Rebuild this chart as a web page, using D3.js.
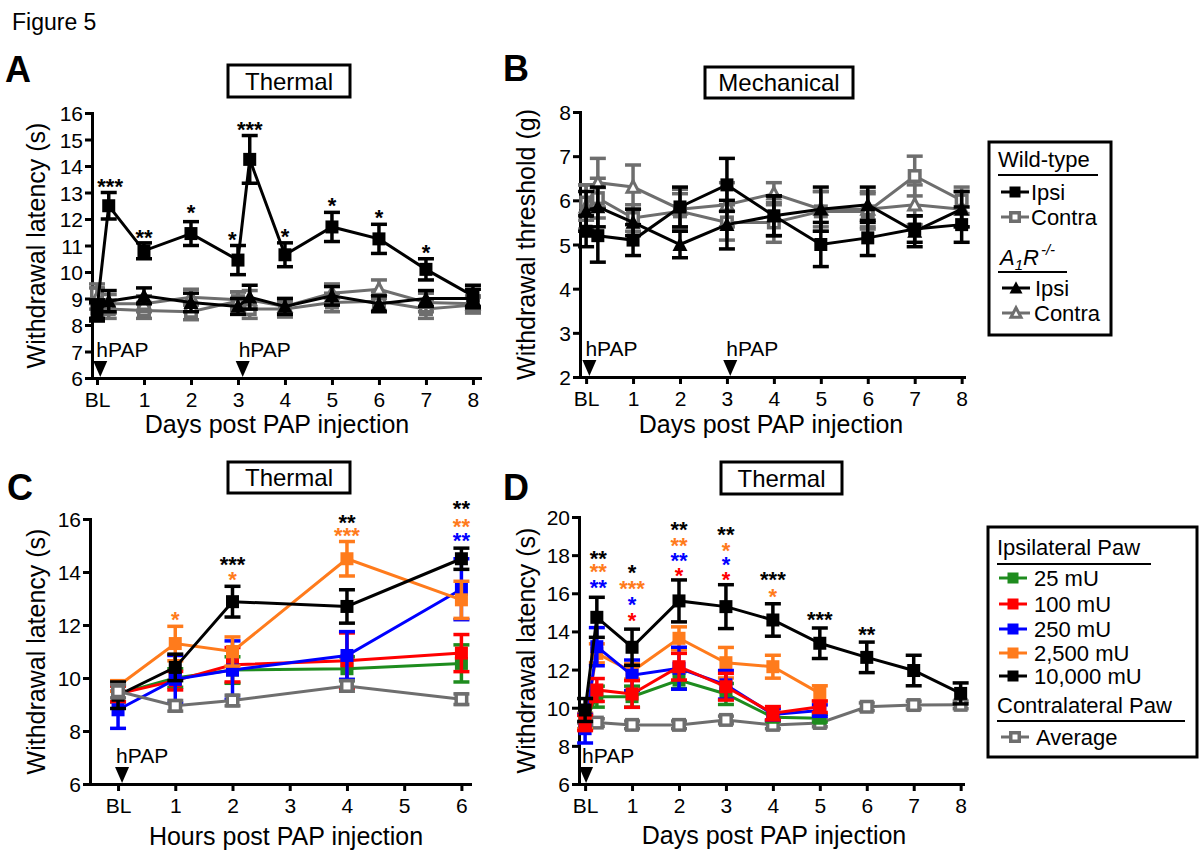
<!DOCTYPE html>
<html><head><meta charset="utf-8">
<script src="https://cdn.jsdelivr.net/npm/d3@7"></script>
<style>body{margin:0;background:#fff}svg{display:block}text{font-family:"Liberation Sans",Arial,Helvetica,sans-serif}</style>
</head><body><svg id="c" width="1200" height="857"></svg>
<script>
// ---------------- DATA ----------------
const GREY = "#6e6e6e", GREEN = "#1e8c1e", RED = "#ff0000", BLUE = "#0000ff", ORANGE = "#ff7b1c", BLACK = "#000000";

// Panel A (thermal, days)
const aDays = [0, 0.25, 1, 2, 3, 3.25, 4, 5, 6, 7, 8];
const aWtIpsi = [8.6, 12.5, 10.8, 11.45, 10.45, 14.25, 10.65, 11.7, 11.25, 10.1, 9.1];
const aWtIpsiErr = [0.35, 0.5, 0.3, 0.45, 0.55, 0.9, 0.45, 0.55, 0.55, 0.4, 0.4];
const aWtContra = [9.2, 8.6, 8.55, 8.5, 8.9, 8.6, 8.6, 8.85, 8.9, 8.6, 8.75];
const aWtContraErr = [0.35, 0.35, 0.3, 0.3, 0.35, 0.35, 0.3, 0.35, 0.35, 0.35, 0.3];
const aKoIpsi = [8.5, 8.9, 9.1, 8.85, 8.7, 9.05, 8.7, 9.1, 8.8, 9.0, 9.0];
const aKoIpsiErr = [0.35, 0.4, 0.3, 0.35, 0.3, 0.45, 0.3, 0.35, 0.3, 0.3, 0.35];
const aKoContra = [9.0, 8.8, 8.8, 9.05, 8.95, 8.95, 8.7, 9.2, 9.35, 8.85, 8.8];
const aKoContraErr = [0.4, 0.35, 0.3, 0.3, 0.3, 0.35, 0.3, 0.35, 0.35, 0.35, 0.3];
const aStars = [[0.28, 13.4, "***"], [1, 11.5, "**"], [2, 12.42, "*"], [2.88, 11.4, "*"], [3.25, 15.58, "***"],
                [4, 11.51, "*"], [5, 12.68, "*"], [6, 12.23, "*"], [7, 10.91, "*"]];

// Panel B (mechanical, days)
const bDays = [0, 0.25, 1, 2, 3, 4, 5, 6, 7, 8];
const bWtIpsi = [5.3, 5.2, 5.1, 5.85, 6.35, 5.65, 5.0, 5.15, 5.35, 5.45];
const bWtIpsiErr = [0.35, 0.6, 0.35, 0.45, 0.6, 0.45, 0.5, 0.4, 0.3, 0.4];
const bWtContra = [5.95, 6.05, 5.6, 5.75, 5.5, 5.5, 5.75, 5.75, 6.55, 6.0];
const bWtContraErr = [0.4, 0.45, 0.3, 0.4, 0.4, 0.45, 0.45, 0.4, 0.45, 0.3];
const bKoIpsi = [5.75, 5.85, 5.5, 5.0, 5.45, 5.65, 5.8, 5.9, 5.3, 5.8];
const bKoIpsiErr = [0.45, 0.45, 0.3, 0.3, 0.55, 0.45, 0.5, 0.4, 0.35, 0.4];
const bKoContra = [5.85, 6.4, 6.3, 5.8, 5.9, 6.15, 5.8, 5.8, 5.9, 5.8];
const bKoContraErr = [0.5, 0.55, 0.5, 0.45, 0.5, 0.25, 0.4, 0.4, 0.45, 0.4];

// Panel C (thermal, hours)
const cHours = [0, 1, 2, 4, 6];
const c25 = [9.4, 10.0, 10.3, 10.35, 10.55];
const c25Err = [0.3, 0.35, 0.5, 0.45, 0.7];
const c100 = [9.4, 9.9, 10.5, 10.65, 10.94];
const c100Err = [0.3, 0.35, 0.65, 1.05, 0.7];
const c250 = [8.8, 9.95, 10.3, 10.85, 13.35];
const c250Err = [0.7, 0.9, 1.1, 0.9, 1.15];
const c2500 = [9.7, 11.3, 11.0, 14.5, 12.95];
const c2500Err = [0.2, 0.65, 0.55, 0.65, 0.7];
const c10000 = [9.35, 10.4, 12.88, 12.7, 14.5];
const c10000Err = [0.5, 0.5, 0.58, 0.63, 0.4];
const cAvg = [9.5, 8.95, 9.15, 9.7, 9.2];
const cAvgErr = [0.25, 0.2, 0.2, 0.2, 0.2];
const cStars = [[1, 12.38, "*", ORANGE], [2, 14.49, "***", BLACK], [2, 13.89, "*", ORANGE],
                [4, 16.04, "**", BLACK], [4, 15.58, "***", ORANGE],
                [6, 16.6, "**", BLACK], [6, 15.92, "**", ORANGE], [6, 15.36, "**", BLUE]];

// Panel D (thermal, days, dose)
const dDays = [0, 0.25, 1, 2, 3, 4, 5, 6, 7, 8];
const dDaysShort = [0, 0.25, 1, 2, 3, 4, 5];
const d25 = [9.3, 10.58, 10.58, 11.45, 10.72, 9.5, 9.45];
const d25Err = [0.4, 0.55, 0.55, 0.45, 0.55, 0.2, 0.2];
const d100 = [9.2, 10.93, 10.72, 12.15, 11.1, 9.71, 10.05];
const d100Err = [0.4, 0.6, 0.7, 0.7, 0.7, 0.35, 0.3];
const d250 = [8.9, 13.2, 11.7, 12.07, 11.2, 9.65, 9.85];
const d250Err = [0.75, 1.0, 0.8, 1.1, 0.75, 0.3, 0.3];
const d2500 = [9.3, 12.85, 11.9, 13.64, 12.36, 12.15, 10.75];
const d2500Err = [0.4, 0.5, 0.4, 0.6, 0.8, 0.6, 0.4];
const d10000 = [9.88, 14.74, 13.17, 15.6, 15.3, 14.6, 13.38, 12.64, 11.95, 10.75];
const d10000Err = [0.6, 1.05, 0.95, 1.1, 1.15, 0.85, 0.8, 0.8, 0.8, 0.55];
const dAvg = [9.4, 9.22, 9.1, 9.1, 9.36, 9.1, 9.2, 10.05, 10.14, 10.15];
const dAvgErr = [0.2, 0.2, 0.2, 0.2, 0.2, 0.2, 0.2, 0.2, 0.2, 0.2];
const dStars = [[0.28, 18.11, "**", BLACK], [0.28, 17.38, "**", ORANGE], [0.28, 16.54, "**", BLUE],
                [1, 17.33, "*", BLACK], [1, 16.49, "***", ORANGE], [1, 15.65, "*", BLUE], [1, 14.81, "*", RED],
                [2, 19.63, "**", BLACK], [2, 18.79, "**", ORANGE], [2, 17.96, "**", BLUE], [2, 17.17, "*", RED],
                [3, 19.32, "**", BLACK], [3, 18.53, "*", ORANGE], [3, 17.75, "*", BLUE], [3, 17.01, "*", RED],
                [4, 16.96, "***", BLACK], [4, 16.07, "*", ORANGE],
                [5, 14.91, "***", BLACK], [6, 14.08, "**", BLACK]];

const dayLabels = ["BL", "1", "2", "3", "4", "5", "6", "7", "8"];
const hourLabels = ["BL", "1", "2", "3", "4", "5", "6"];
const doseLabels = ["25 mU", "100 mU", "250 mU", "2,500 mU", "10,000 mU"];
const doseColors = [GREEN, RED, BLUE, ORANGE, BLACK];

// ---------------- DRAWING ----------------
const svg = d3.select("#c");

function marker(g, type, color, cx, cy, s) {
  if (type === "sq") {
    g.append("rect").attr("x", cx - s / 2).attr("y", cy - s / 2).attr("width", s).attr("height", s).attr("fill", color);
  } else if (type === "sqOpen") {
    const t = s - 3.5;
    g.append("rect").attr("x", cx - t / 2).attr("y", cy - t / 2).attr("width", t).attr("height", t)
      .attr("fill", "#fff").attr("stroke", color).attr("stroke-width", 3.5);
  } else if (type === "tri") {
    const h = s * 0.95;
    g.append("path").attr("d", `M${cx},${cy - h * 0.55} L${cx + s / 2},${cy + h * 0.45} L${cx - s / 2},${cy + h * 0.45} Z`).attr("fill", color);
  } else if (type === "triOpen") {
    const t = s - 3, h = t * 0.95;
    g.append("path").attr("d", `M${cx},${cy - h * 0.55} L${cx + t / 2},${cy + h * 0.45} L${cx - t / 2},${cy + h * 0.45} Z`)
      .attr("fill", "#fff").attr("stroke", color).attr("stroke-width", 3).attr("stroke-linejoin", "miter");
  }
}

function series(g, x, y, xs, vs, es, color, type, size) {
  const pts = xs.map((d, i) => ({ x: d, v: vs[i], e: es[i] }));
  const sg = g.append("g");
  sg.append("path").datum(pts).attr("fill", "none").attr("stroke", color).attr("stroke-width", 3)
    .attr("d", d3.line().x(d => x(d.x)).y(d => y(d.v)));
  const eg = sg.append("g").attr("stroke", color).attr("stroke-width", 3.5);
  pts.forEach(d => {
    const cx = x(d.x);
    eg.append("line").attr("x1", cx).attr("x2", cx).attr("y1", y(d.v - d.e)).attr("y2", y(d.v + d.e));
    eg.append("line").attr("x1", cx - 8).attr("x2", cx + 8).attr("y1", y(d.v + d.e)).attr("y2", y(d.v + d.e));
    eg.append("line").attr("x1", cx - 8).attr("x2", cx + 8).attr("y1", y(d.v - d.e)).attr("y2", y(d.v - d.e));
  });
  pts.forEach(d => marker(sg, type, color, x(d.x), y(d.v), size));
}

function panel(p) {
  const g = svg.append("g");
  const x = d3.scaleLinear().domain(p.xDomain).range(p.xRange);
  const y = d3.scaleLinear().domain(p.yDomain).range(p.yRange);
  const gy = g.append("g").attr("transform", `translate(${p.xRange[0]},0)`)
    .call(d3.axisLeft(y).tickValues(p.yTicks).tickSize(7).tickSizeOuter(0).tickFormat(d3.format("d")));
  const gx = g.append("g").attr("transform", `translate(0,${p.yRange[0]})`)
    .call(d3.axisBottom(x).tickValues(d3.range(p.xLabels.length)).tickSize(7).tickSizeOuter(0).tickFormat((d, i) => p.xLabels[i]));
  [gx, gy].forEach(a => {
    a.select(".domain").attr("stroke-width", 3).attr("stroke-linecap", "square");
    a.selectAll(".tick line").attr("stroke-width", 3);
    a.selectAll("text").attr("font-size", 21).attr("fill", "#000").attr("font-family", null);
  });
  gx.selectAll(".tick text").attr("y", 29).attr("dy", 0);
  gy.selectAll(".tick text").attr("x", -9).attr("dy", "0.36em");

  // axis titles
  g.append("text").attr("transform", `translate(${p.yTitleX},${(p.yRange[0] + p.yRange[1]) / 2}) rotate(-90)`)
    .attr("text-anchor", "middle").attr("font-size", 25).text(p.yTitle);
  g.append("text").attr("x", p.xTitleX).attr("y", p.xTitleY).attr("text-anchor", "middle").attr("font-size", 25).text(p.xTitle);

  // title box
  g.append("rect").attr("x", p.box[0]).attr("y", p.box[1]).attr("width", p.box[2]).attr("height", p.box[3])
    .attr("fill", "#fff").attr("stroke", "#000").attr("stroke-width", 3);
  g.append("text").attr("x", p.box[0] + p.box[2] / 2).attr("y", p.box[1] + p.box[3] - 7.5)
    .attr("text-anchor", "middle").attr("font-size", 24).text(p.title);

  // panel letter
  g.append("text").attr("x", p.letter[0]).attr("y", p.letter[1]).attr("font-size", 36).attr("font-weight", "bold").text(p.letterText);

  // hPAP arrows
  p.arrows.forEach(a => {
    const ax = x(a[0]), by = p.yRange[0];
    g.append("path").attr("d", `M${ax - 7},${by - 17} L${ax + 7},${by - 17} L${ax},${by - 1} Z`).attr("fill", "#000");
    g.append("text").attr("x", ax - 4 + a[1]).attr("y", by - 21).attr("font-size", 21).text("hPAP");
  });

  const dg = g.append("g");
  p.draw(dg, x, y);

  // stars: one text element per x position, stacked lines as tspans
  const groups = d3.group(p.stars, s => s[0]);
  groups.forEach((list, xv) => {
    const t = g.append("text").attr("text-anchor", "middle").attr("font-size", 22).attr("font-weight", "bold");
    list.forEach(s => {
      t.append("tspan").attr("x", x(xv)).attr("y", y(s[1]) + 12.5).attr("fill", s[3] || BLACK).text(s[2]);
    });
  });
  return { x, y };
}

svg.append("text").attr("x", 12).attr("y", 30).attr("font-size", 23).text("Figure 5");

// Panel A
panel({
  xDomain: [-0.106, 8.15], xRange: [92, 480], yDomain: [6, 16], yRange: [378, 113],
  yTicks: d3.range(6, 17), xLabels: dayLabels,
  yTitle: "Withdrawal latency (s)", yTitleX: 45, xTitle: "Days post PAP injection", xTitleX: 277, xTitleY: 433,
  box: [228, 65, 122, 32], title: "Thermal", letter: [5, 82], letterText: "A",
  arrows: [[0.07, 0], [3.1, 0]],
  stars: aStars,
  draw: (g, x, y) => {
    series(g, x, y, aDays, aWtContra, aWtContraErr, GREY, "sqOpen", 14);
    series(g, x, y, aDays, aKoContra, aKoContraErr, GREY, "triOpen", 15);
    series(g, x, y, aDays, aKoIpsi, aKoIpsiErr, BLACK, "tri", 15);
    series(g, x, y, aDays, aWtIpsi, aWtIpsiErr, BLACK, "sq", 13);
  }
});

// Panel B
panel({
  xDomain: [-0.13, 8.05], xRange: [580, 964], yDomain: [2, 8], yRange: [377, 112],
  yTicks: d3.range(2, 9), xLabels: dayLabels,
  yTitle: "Withdrawal threshold (g)", yTitleX: 535, xTitle: "Days post PAP injection", xTitleX: 771, xTitleY: 433,
  box: [705, 67, 148, 31], title: "Mechanical", letter: [503, 81], letterText: "B",
  arrows: [[0.07, 0], [3.07, 0]],
  stars: [],
  draw: (g, x, y) => {
    series(g, x, y, bDays, bWtContra, bWtContraErr, GREY, "sqOpen", 14);
    series(g, x, y, bDays, bKoContra, bKoContraErr, GREY, "triOpen", 15);
    series(g, x, y, bDays, bKoIpsi, bKoIpsiErr, BLACK, "tri", 15);
    series(g, x, y, bDays, bWtIpsi, bWtIpsiErr, BLACK, "sq", 13);
  }
});

// Panel C
panel({
  xDomain: [-0.49, 6.15], xRange: [90, 470], yDomain: [6, 16], yRange: [784, 519],
  yTicks: d3.range(6, 17, 2), xLabels: hourLabels,
  yTitle: "Withdrawal latency (s)", yTitleX: 45, xTitle: "Hours post PAP injection", xTitleX: 286, xTitleY: 845,
  box: [228, 462, 122, 31], title: "Thermal", letter: [7, 500], letterText: "C",
  arrows: [[0.07, -2]],
  stars: cStars,
  draw: (g, x, y) => {
    series(g, x, y, cHours, c25, c25Err, GREEN, "sq", 13);
    series(g, x, y, cHours, c100, c100Err, RED, "sq", 13);
    series(g, x, y, cHours, c250, c250Err, BLUE, "sq", 13);
    series(g, x, y, cHours, c2500, c2500Err, ORANGE, "sq", 13);
    series(g, x, y, cHours, c10000, c10000Err, BLACK, "sq", 13);
    series(g, x, y, cHours, cAvg, cAvgErr, GREY, "sqOpen", 14);
  }
});

// Panel D
panel({
  xDomain: [-0.13, 8.05], xRange: [579, 963], yDomain: [6, 20], yRange: [784, 517],
  yTicks: d3.range(6, 21, 2), xLabels: dayLabels,
  yTitle: "Withdrawal latency (s)", yTitleX: 535, xTitle: "Days post PAP injection", xTitleX: 774, xTitleY: 844,
  box: [721, 462, 121, 32], title: "Thermal", letter: [503, 500], letterText: "D",
  arrows: [[0.02, 0]],
  stars: dStars,
  draw: (g, x, y) => {
    series(g, x, y, dDays, dAvg, dAvgErr, GREY, "sqOpen", 14);
    series(g, x, y, dDaysShort, d25, d25Err, GREEN, "sq", 13);
    series(g, x, y, dDaysShort, d2500, d2500Err, ORANGE, "sq", 13);
    series(g, x, y, dDaysShort, d250, d250Err, BLUE, "sq", 13);
    series(g, x, y, dDaysShort, d100, d100Err, RED, "sq", 13);
    series(g, x, y, dDays, d10000, d10000Err, BLACK, "sq", 13);
  }
});

// ---------------- LEGENDS ----------------
function legItem(g, type, color, x0, cy, label, tx) {
  g.append("line").attr("x1", x0).attr("x2", x0 + 28).attr("y1", cy).attr("y2", cy).attr("stroke", color).attr("stroke-width", 3);
  marker(g, type, color, x0 + 14, cy, type === "sq" ? 11 : (type === "sqOpen" ? 12 : 13));
  g.append("text").attr("x", tx).attr("y", cy + 8).attr("font-size", 22).text(label);
}

const lb = svg.append("g");
lb.append("rect").attr("x", 989).attr("y", 142).attr("width", 122).attr("height", 193).attr("fill", "#fff").attr("stroke", "#000").attr("stroke-width", 3);
lb.append("text").attr("x", 998).attr("y", 167).attr("font-size", 22).text("Wild-type");
lb.append("line").attr("x1", 998).attr("x2", 1098).attr("y1", 175).attr("y2", 175).attr("stroke", "#000").attr("stroke-width", 2);
legItem(lb, "sq", BLACK, 1001, 192, "Ipsi", 1031);
legItem(lb, "sqOpen", GREY, 1001, 217, "Contra", 1031);
const kt = lb.append("text").attr("x", 1000).attr("y", 265).attr("font-size", 22).attr("font-style", "italic");
kt.append("tspan").text("A");
kt.append("tspan").attr("font-size", 15).attr("dy", 5).text("1");
kt.append("tspan").attr("dy", -5).text("R");
kt.append("tspan").attr("font-size", 15).attr("dy", -10).attr("dx", 2).text("-/-");
lb.append("line").attr("x1", 998).attr("x2", 1067).attr("y1", 272).attr("y2", 272).attr("stroke", "#000").attr("stroke-width", 2);
legItem(lb, "tri", BLACK, 1002, 288, "Ipsi", 1035);
legItem(lb, "triOpen", GREY, 1002, 313, "Contra", 1034);

const ld = svg.append("g");
ld.append("rect").attr("x", 988).attr("y", 527).attr("width", 209).attr("height", 230).attr("fill", "#fff").attr("stroke", "#000").attr("stroke-width", 3);
ld.append("text").attr("x", 997).attr("y", 555).attr("font-size", 22).text("Ipsilateral Paw");
ld.append("line").attr("x1", 997).attr("x2", 1151).attr("y1", 564).attr("y2", 564).attr("stroke", "#000").attr("stroke-width", 2);
const doseY = [578, 604, 629, 653, 676];
doseLabels.forEach((lab, i) => legItem(ld, "sq", doseColors[i], 999, doseY[i], lab, 1034));
ld.append("text").attr("x", 997).attr("y", 713).attr("font-size", 22).text("Contralateral Paw");
ld.append("line").attr("x1", 997).attr("x2", 1185).attr("y1", 721).attr("y2", 721).attr("stroke", "#000").attr("stroke-width", 2);
legItem(ld, "sqOpen", GREY, 1001, 737, "Average", 1036);
</script></body></html>
